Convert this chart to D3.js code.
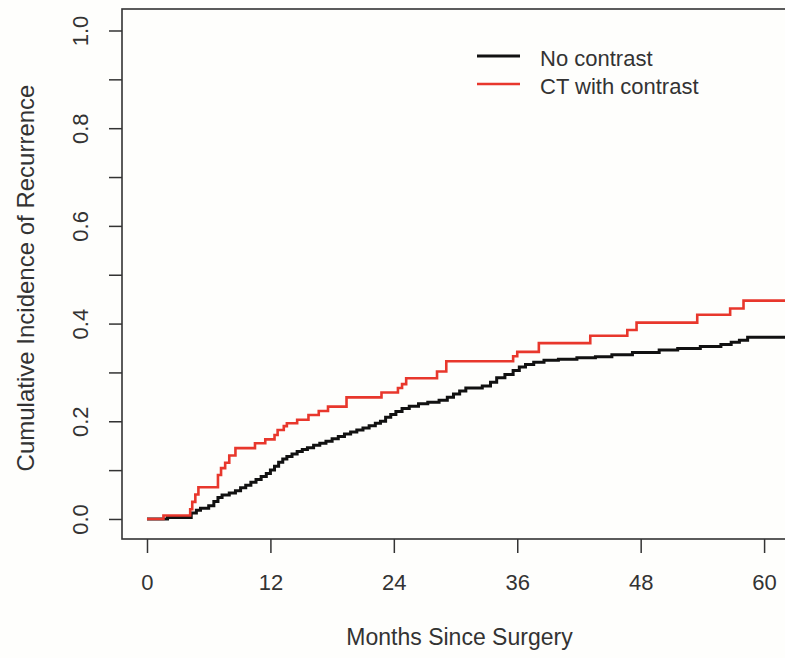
<!DOCTYPE html>
<html>
<head>
<meta charset="utf-8">
<script src="https://cdn.jsdelivr.net/npm/d3@7"></script>
<style>
  body { margin: 0; background: #fefefc; }
  svg { display: block; font-family: "Liberation Sans", Arial, sans-serif; }
</style>
</head>
<body>
<div id="chart"></div>
<script>
// Months since surgery / cumulative incidence
const noContrastMonths = [0, 2.0, 4.3, 4.8, 5.2, 6.0, 6.5, 6.9, 7.3, 8.0, 8.6, 9.1, 9.6, 10.1, 10.6, 11.1, 11.6, 12.0,
  12.4, 12.8, 13.2, 13.6, 14.1, 14.6, 15.1, 15.6, 16.2, 16.8, 17.4, 18.0, 18.6, 19.2, 19.8, 20.4, 21.0, 21.6, 22.2,
  22.7, 23.2, 23.7, 24.2, 24.8, 25.5, 26.4, 27.3, 28.4, 29.2, 29.8, 30.4, 31.0, 32.6, 33.4, 34.0, 34.8, 35.6, 36.2,
  36.8, 37.6, 38.6, 40.0, 41.8, 43.6, 45.2, 47.2, 49.8, 51.6, 53.8, 55.8, 56.8, 57.6, 58.4, 63.5];
const noContrastValues = [0, 0.003, 0.012, 0.018, 0.022, 0.027, 0.036, 0.044, 0.049, 0.053, 0.058, 0.064, 0.069, 0.075,
  0.081, 0.087, 0.093, 0.100, 0.108, 0.116, 0.123, 0.128, 0.133, 0.138, 0.142, 0.146, 0.151, 0.155, 0.159, 0.164,
  0.169, 0.174, 0.178, 0.182, 0.186, 0.191, 0.196, 0.200, 0.208, 0.214, 0.220, 0.226, 0.231, 0.236, 0.239, 0.243,
  0.249, 0.256, 0.262, 0.268, 0.272, 0.280, 0.289, 0.296, 0.304, 0.311, 0.316, 0.321, 0.325, 0.327, 0.330, 0.332,
  0.336, 0.341, 0.346, 0.349, 0.353, 0.357, 0.362, 0.366, 0.372, 0.372];

const contrastMonths = [0, 1.6, 4.2, 4.4, 4.7, 5.0, 6.9, 7.2, 7.6, 8.0, 8.6, 10.5, 11.5, 12.4, 12.7, 13.3, 13.6, 14.6,
  15.7, 16.7, 17.6, 19.4, 22.8, 24.4, 24.8, 25.2, 28.2, 29.1, 35.6, 36.0, 38.1, 43.1, 46.7, 47.6, 53.5, 56.7, 58.0, 63.5];
const contrastValues = [0, 0.007, 0.02, 0.035, 0.05, 0.065, 0.09, 0.104, 0.115, 0.13, 0.145, 0.155, 0.163, 0.172,
  0.182, 0.19, 0.196, 0.203, 0.213, 0.221, 0.230, 0.249, 0.259, 0.268, 0.276, 0.288, 0.302, 0.323, 0.333, 0.342,
  0.360, 0.375, 0.387, 0.402, 0.418, 0.431, 0.447, 0.447];

const xTicks = [0, 12, 24, 36, 48, 60];
const yTicks = [0, 0.1, 0.2, 0.3, 0.4, 0.5, 0.6, 0.7, 0.8, 0.9, 1.0];
const seriesNames = ["No contrast", "CT with contrast"];
const seriesColors = ["#111111", "#e8372c"];

const width = 785, height = 658;
const box = { left: 122, top: 9, right: 797, bottom: 539 };

const svg = d3.select("#chart").append("svg")
    .attr("width", width)
    .attr("height", height);

// R default 4% axis expansion
const x = d3.scaleLinear().domain([-2.43, 63.2]).range([box.left, box.right]);
const y = d3.scaleLinear().domain([-0.041, 1.044]).range([box.bottom, box.top]);

const ink = "#333";

// curves first, frame on top
const line = d3.line()
    .x(d => x(d[0]))
    .y(d => y(d[1]))
    .curve(d3.curveStepAfter);

const series = [
    d3.zip(noContrastMonths, noContrastValues),
    d3.zip(contrastMonths, contrastValues)
];

svg.selectAll(".curve")
    .data(series)
    .enter().append("path")
    .attr("class", "curve")
    .attr("fill", "none")
    .attr("stroke", (d, i) => seriesColors[i])
    .attr("stroke-width", (d, i) => i === 0 ? 3 : 2.6)
    .attr("d", line);

// plot frame (right side runs off the picture)
svg.append("rect")
    .attr("x", box.left)
    .attr("y", box.top)
    .attr("width", box.right - box.left)
    .attr("height", box.bottom - box.top)
    .attr("fill", "none")
    .attr("stroke", ink)
    .attr("stroke-width", 1.6);

// Y axis
const yAxis = svg.append("g")
    .attr("transform", `translate(${box.left},0)`)
    .call(d3.axisLeft(y)
        .tickValues(yTicks)
        .tickSize(13)
        .tickFormat(d => Math.round(d * 10) % 2 === 0 ? d.toFixed(1) : ""));
yAxis.select(".domain").remove();
yAxis.selectAll("line").attr("stroke", ink).attr("stroke-width", 1.5);
yAxis.selectAll("text")
    .attr("transform", "rotate(-90)")
    .attr("x", 0)
    .attr("y", -34)
    .attr("dy", 0)
    .attr("text-anchor", "middle")
    .attr("fill", ink)
    .style("font-size", "22px");

// X axis
const xAxis = svg.append("g")
    .attr("transform", `translate(0,${box.bottom})`)
    .call(d3.axisBottom(x).tickValues(xTicks).tickSize(14));
xAxis.select(".domain").remove();
xAxis.selectAll("line").attr("stroke", ink).attr("stroke-width", 1.5);
xAxis.selectAll("text")
    .attr("y", 51)
    .attr("dy", 0)
    .attr("fill", ink)
    .style("font-size", "22px");

// axis titles
svg.append("text")
    .attr("x", (box.left + box.right) / 2)
    .attr("y", 645)
    .attr("text-anchor", "middle")
    .attr("fill", ink)
    .style("font-size", "23px")
    .text("Months Since Surgery");

svg.append("text")
    .attr("transform", `translate(34,${(box.top + box.bottom) / 2 + 4}) rotate(-90)`)
    .attr("text-anchor", "middle")
    .attr("fill", ink)
    .style("font-size", "24px")
    .text("Cumulative Incidence of Recurrence");

// legend
const legend = svg.append("g").attr("transform", "translate(477,56)");
legend.selectAll(".legend-item")
    .data(seriesNames)
    .enter().append("g")
    .attr("class", "legend-item")
    .attr("transform", (d, i) => `translate(0,${i * 28})`)
    .each(function(d, i) {
        const item = d3.select(this);
        item.append("line")
            .attr("x1", 0).attr("x2", 43)
            .attr("stroke", seriesColors[i])
            .attr("stroke-width", i === 0 ? 3 : 2.6);
        item.append("text")
            .attr("x", 63)
            .attr("y", 10)
            .attr("fill", ink)
            .style("font-size", "22px")
            .text(d);
    });
</script>
</body>
</html>
